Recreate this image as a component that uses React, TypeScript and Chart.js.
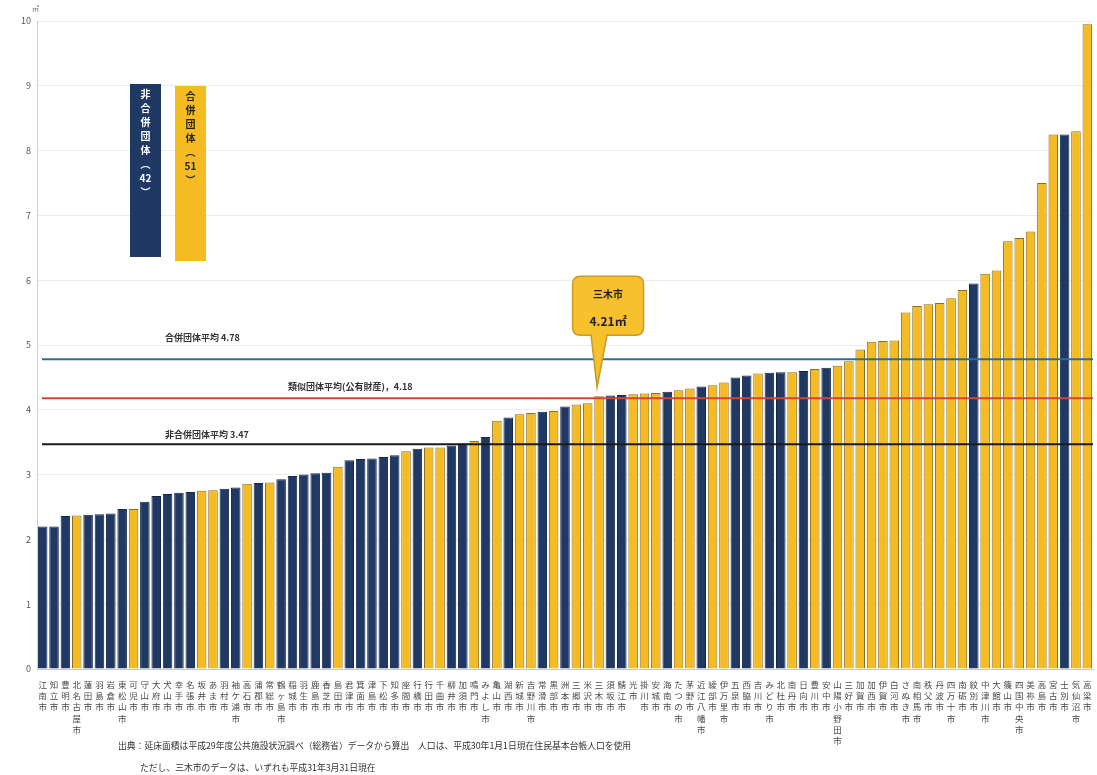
import React, { useEffect, useRef } from "react";
import { Chart, registerables } from "chart.js";

Chart.register(...registerables);

const FONT = "'Noto Sans CJK JP', 'Noto Sans', sans-serif";

const cities: string[] = [
  "江南市", "知立市", "豊明市", "北名古屋市", "蓮田市", "羽島市", "岩倉市", "東松山市", "可児市", "守山市",
  "大府市", "犬山市", "幸手市", "名張市", "坂井市", "あま市", "羽村市", "袖ケ浦市", "高石市", "蒲郡市",
  "常総市", "鶴ヶ島市", "稲城市", "羽生市", "鹿島市", "香芝市", "島田市", "君津市", "箕面市", "津島市",
  "下松市", "知多市", "座間市", "行橋市", "行田市", "千曲市", "柳井市", "加須市", "鳴門市", "みよし市",
  "亀山市", "湖西市", "新城市", "吉野川市", "常滑市", "黒部市", "洲本市", "三郷市", "米沢市", "三木市",
  "須坂市", "鯖江市", "光市", "掛川市", "安城市", "海南市", "たつの市", "茅野市", "近江八幡市", "綾部市",
  "伊万里市", "五泉市", "西脇市", "吉川市", "みどり市", "北杜市", "南丹市", "日向市", "豊川市", "安中市",
  "山陽小野田市", "三好市", "加賀市", "加西市", "伊賀市", "白河市", "さぬき市", "南相馬市", "秩父市", "丹波市",
  "四万十市", "南砺市", "紋別市", "中津川市", "大館市", "篠山市", "四国中央市", "美祢市", "高島市", "宮古市",
  "士別市", "気仙沼市", "高梁市",
];

const values: number[] = [
  2.2, 2.2, 2.36, 2.37, 2.38, 2.39, 2.4, 2.47, 2.47, 2.58,
  2.67, 2.7, 2.72, 2.73, 2.75, 2.76, 2.78, 2.8, 2.86, 2.87,
  2.88, 2.93, 2.98, 3.0, 3.02, 3.03, 3.12, 3.22, 3.24, 3.25,
  3.27, 3.3, 3.36, 3.4, 3.42, 3.42, 3.45, 3.48, 3.52, 3.58,
  3.83, 3.88, 3.93, 3.95, 3.97, 3.98, 4.05, 4.08, 4.1, 4.21,
  4.22, 4.23, 4.24, 4.25, 4.26, 4.28, 4.3, 4.33, 4.36, 4.38,
  4.42, 4.5, 4.53, 4.56, 4.57, 4.58, 4.58, 4.6, 4.63, 4.65,
  4.68, 4.75, 4.93, 5.05, 5.06, 5.07, 5.5, 5.6, 5.63, 5.65,
  5.72, 5.85, 5.95, 6.1, 6.15, 6.6, 6.65, 6.75, 7.5, 8.25,
  8.25, 8.3, 9.95,
];

// 1 = 合併団体, 0 = 非合併団体
const merged: number[] = [
  0, 0, 0, 1, 0, 0, 0, 0, 1, 0,
  0, 0, 0, 0, 1, 1, 0, 0, 1, 0,
  1, 0, 0, 0, 0, 0, 1, 0, 0, 0,
  0, 0, 1, 0, 1, 1, 0, 0, 1, 0,
  1, 0, 1, 1, 0, 1, 0, 1, 1, 1,
  0, 0, 1, 1, 1, 0, 1, 1, 0, 1,
  1, 0, 0, 1, 0, 0, 1, 0, 1, 0,
  1, 1, 1, 1, 1, 1, 1, 1, 1, 1,
  1, 1, 0, 1, 1, 1, 1, 1, 1, 1,
  0, 1, 1,
];

const yTicks: number[] = [0, 1, 2, 3, 4, 5, 6, 7, 8, 9, 10];

const refLabels: string[] = ["合併団体平均 4.78", "類似団体平均(公有財産)，4.18", "非合併団体平均 3.47"];
const refValues: number[] = [4.78, 4.18, 3.47];

const highlightCity = "三木市";
const highlightText = "4.21㎡";

const legendNonMerged: string[] = ["非", "合", "併", "団", "体", "︵", "42", "︶"];
const legendMerged: string[] = ["合", "併", "団", "体", "︵", "51", "︶"];

const footerLines: string[] = [
  "出典：延床面積は平成29年度公共施設状況調べ（総務省）データから算出　人口は、平成30年1月1日現在住民基本台帳人口を使用",
  "ただし、三木市のデータは、いずれも平成31年3月31日現在",
];

const NAVY = "#1f3864";
const NAVY_BORDER = "#14264a";
const YELLOW = "#f4bb22";
const YELLOW_BORDER = "#8a6d1e";
const REF_COLORS = ["#2e6f8e", "#d0453c", "#1a1a1a"];

const overlayPlugin = {
  id: "overlay",
  afterDatasetsDraw(chart: any) {
    const { ctx, chartArea, scales } = chart;
    const x = scales.x;
    const y = scales.y;
    ctx.save();
    const labelX = [165, 288, 165];
    const labelDy = [22, 12, 10];
    refValues.forEach((v, k) => {
      const py = y.getPixelForValue(v);
      ctx.strokeStyle = REF_COLORS[k];
      ctx.lineWidth = 2;
      ctx.beginPath();
      ctx.moveTo(chartArea.left + 5, py);
      ctx.lineTo(chartArea.right, py);
      ctx.stroke();
      ctx.font = `bold 9px ${FONT}`;
      ctx.fillStyle = "#333";
      ctx.textBaseline = "middle";
      ctx.textAlign = "left";
      ctx.fillText(refLabels[k], labelX[k], py - labelDy[k]);
    });

    const idx = cities.indexOf(highlightCity);
    const bx = x.getPixelForValue(idx);
    const by = y.getPixelForValue(values[idx]);
    const tipX = bx - 2;
    const tipY = by - 9;
    const bw = 71;
    const bh = 59;
    const cx = bx + 9;
    const left = cx - bw / 2;
    const bottom = tipY - 52;
    const top = bottom - bh;
    const r = 8;
    ctx.beginPath();
    ctx.moveTo(left + r, top);
    ctx.lineTo(left + bw - r, top);
    ctx.quadraticCurveTo(left + bw, top, left + bw, top + r);
    ctx.lineTo(left + bw, bottom - r);
    ctx.quadraticCurveTo(left + bw, bottom, left + bw - r, bottom);
    ctx.lineTo(bx + 8, bottom);
    ctx.lineTo(tipX, tipY);
    ctx.lineTo(bx - 8, bottom);
    ctx.lineTo(left + r, bottom);
    ctx.quadraticCurveTo(left, bottom, left, bottom - r);
    ctx.lineTo(left, top + r);
    ctx.quadraticCurveTo(left, top, left + r, top);
    ctx.closePath();
    ctx.fillStyle = "#f6c12d";
    ctx.fill();
    ctx.strokeStyle = "#c89a26";
    ctx.lineWidth = 1.5;
    ctx.stroke();
    ctx.fillStyle = "#222";
    ctx.textAlign = "center";
    ctx.textBaseline = "middle";
    ctx.font = `bold 10px ${FONT}`;
    ctx.fillText(highlightCity, cx, top + 18);
    ctx.font = `bold 12px ${FONT}`;
    ctx.fillText(highlightText, cx, top + 45);
    ctx.restore();
  },
  afterDraw(chart: any) {
    const { ctx } = chart;
    ctx.save();
    ctx.fillStyle = "#666";
    ctx.font = `7px ${FONT}`;
    ctx.textAlign = "left";
    ctx.textBaseline = "middle";
    ctx.fillText("㎡", 32, 8);

    ctx.fillStyle = NAVY;
    ctx.fillRect(130, 84, 31, 173);
    ctx.fillStyle = YELLOW;
    ctx.fillRect(175, 86, 31, 175);
    ctx.textAlign = "center";
    ctx.textBaseline = "middle";
    ctx.font = `bold 10px ${FONT}`;
    ctx.fillStyle = "#ffffff";
    legendNonMerged.forEach((c, i) => {
      ctx.fillText(c, 145.5, 94 + i * 14);
    });
    ctx.fillStyle = "#222";
    legendMerged.forEach((c, i) => {
      ctx.fillText(c, 190.5, 96 + i * 14);
    });

    ctx.fillStyle = "#333";
    ctx.font = `8.8px ${FONT}`;
    ctx.textAlign = "left";
    ctx.fillText(footerLines[0], 118, 746);
    ctx.fillText(footerLines[1], 140, 768);
    ctx.restore();
  },
};

export default function App() {
  const ref = useRef<HTMLCanvasElement | null>(null);
  useEffect(() => {
    if (!ref.current) return;
    const chart = new Chart(ref.current, {
      type: "bar",
      data: {
        labels: cities.map((c) => Array.from(c)),
        datasets: [
          {
            data: values,
            backgroundColor: merged.map((m) => (m ? YELLOW : NAVY)),
            borderColor: merged.map((m) => (m ? YELLOW_BORDER : NAVY_BORDER)),
            borderWidth: 1,
            barPercentage: 0.84,
            categoryPercentage: 1,
          },
        ],
      },
      options: {
        animation: false,
        responsive: false,
        layout: { padding: { top: 21, right: 4, bottom: 11, left: 0 } },
        plugins: { legend: { display: false }, tooltip: { enabled: false } },
        scales: {
          x: {
            grid: { display: false },
            border: { color: "#c8c8c8" },
            ticks: {
              autoSkip: false,
              maxRotation: 0,
              minRotation: 0,
              padding: 2,
              color: "#4a4a4a",
              font: { size: 8.5, family: FONT, lineHeight: 1.33 },
            },
            afterFit: (s: any) => {
              s.height = 95;
            },
          },
          y: {
            min: 0,
            max: 10,
            afterBuildTicks: (s: any) => {
              s.ticks = yTicks.map((v) => ({ value: v }));
            },
            ticks: { color: "#555", font: { size: 9, family: FONT }, padding: 6 },
            grid: { color: "#ececec", drawTicks: false },
            border: { color: "#d0d0d0" },
            afterFit: (s: any) => {
              s.width = 37;
            },
          },
        },
      },
      plugins: [overlayPlugin],
    });
    return () => chart.destroy();
  }, []);
  return (
    <div style={{ position: "absolute", left: 0, top: 0, width: 1097, height: 775, background: "#fff" }}>
      <canvas ref={ref} width={1097} height={775} style={{ display: "block" }} />
    </div>
  );
}
